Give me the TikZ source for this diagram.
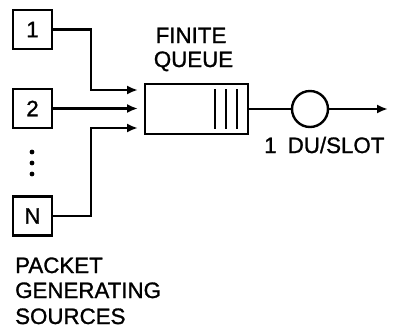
\documentclass[tikz,border=0pt]{standalone}
\usepackage{fontspec}
\setmainfont[FakeBold=1.2]{Liberation Sans}
\usetikzlibrary{arrows.meta}
\begin{document}
\begin{tikzpicture}[x=1pt,y=-1pt,line width=2.4pt,
  every node/.style={font=\fontsize{22.3}{26}\selectfont},
  srcbox/.style={draw,minimum size=39pt,inner sep=0pt},
  lbl/.style={inner sep=0pt,anchor=base},
  arr/.style={-{Latex[length=11pt,width=9pt]}},
  wire/.style={line cap=butt}]
\useasboundingbox (0,0) rectangle (393,333);
% sources
\node[srcbox] (s1) at (32.5,29.5) {1};
\node[srcbox] (s2) at (32.5,108.5) {2};
\node[srcbox] (sN) at (32.5,216) {N};
\foreach \yy in {152,163,174} \fill (32,\yy) circle (2.4pt);
% queue
\node[draw,minimum width=103pt,minimum height=50pt,inner sep=0pt] (q) at (196.5,109) {};
\coordinate (in1) at (143,90);
\coordinate (in2) at (143,108.5);
\coordinate (in3) at (143,128);
\foreach \xx in {215,226,237} \draw (\xx,89) -- (\xx,129);
% connectors
\draw[arr,shorten >=5pt] (s1.east) -| (91,90) -- (in1);
\draw[arr,shorten >=5pt] (s2.east) -- (in2);
\draw[arr,shorten >=5pt] (sN.east) -| (91,128) -- (in3);
% server
\node[draw,circle,minimum size=36pt,inner sep=0pt] (srv) at (310,109) {};
\coordinate (out) at (388,109);
\draw (q.east) -- (srv.west);
\draw[arr] (srv.east) -- (out);
% labels
\node[lbl] (t1) at (191,43) {FINITE};
\node[lbl] (t2) at (193.5,67) {QUEUE};
\node[lbl,anchor=base west] (t3) at (263,153) {1\enspace DU/SLOT};
\node[lbl,anchor=base west] (t4) at (14,273) {PACKET};
\node[lbl,anchor=base west] (t5) at (14,298) {GENERATING};
\node[lbl,anchor=base west] (t6) at (14,324) {SOURCES};
\end{tikzpicture}
\end{document}
